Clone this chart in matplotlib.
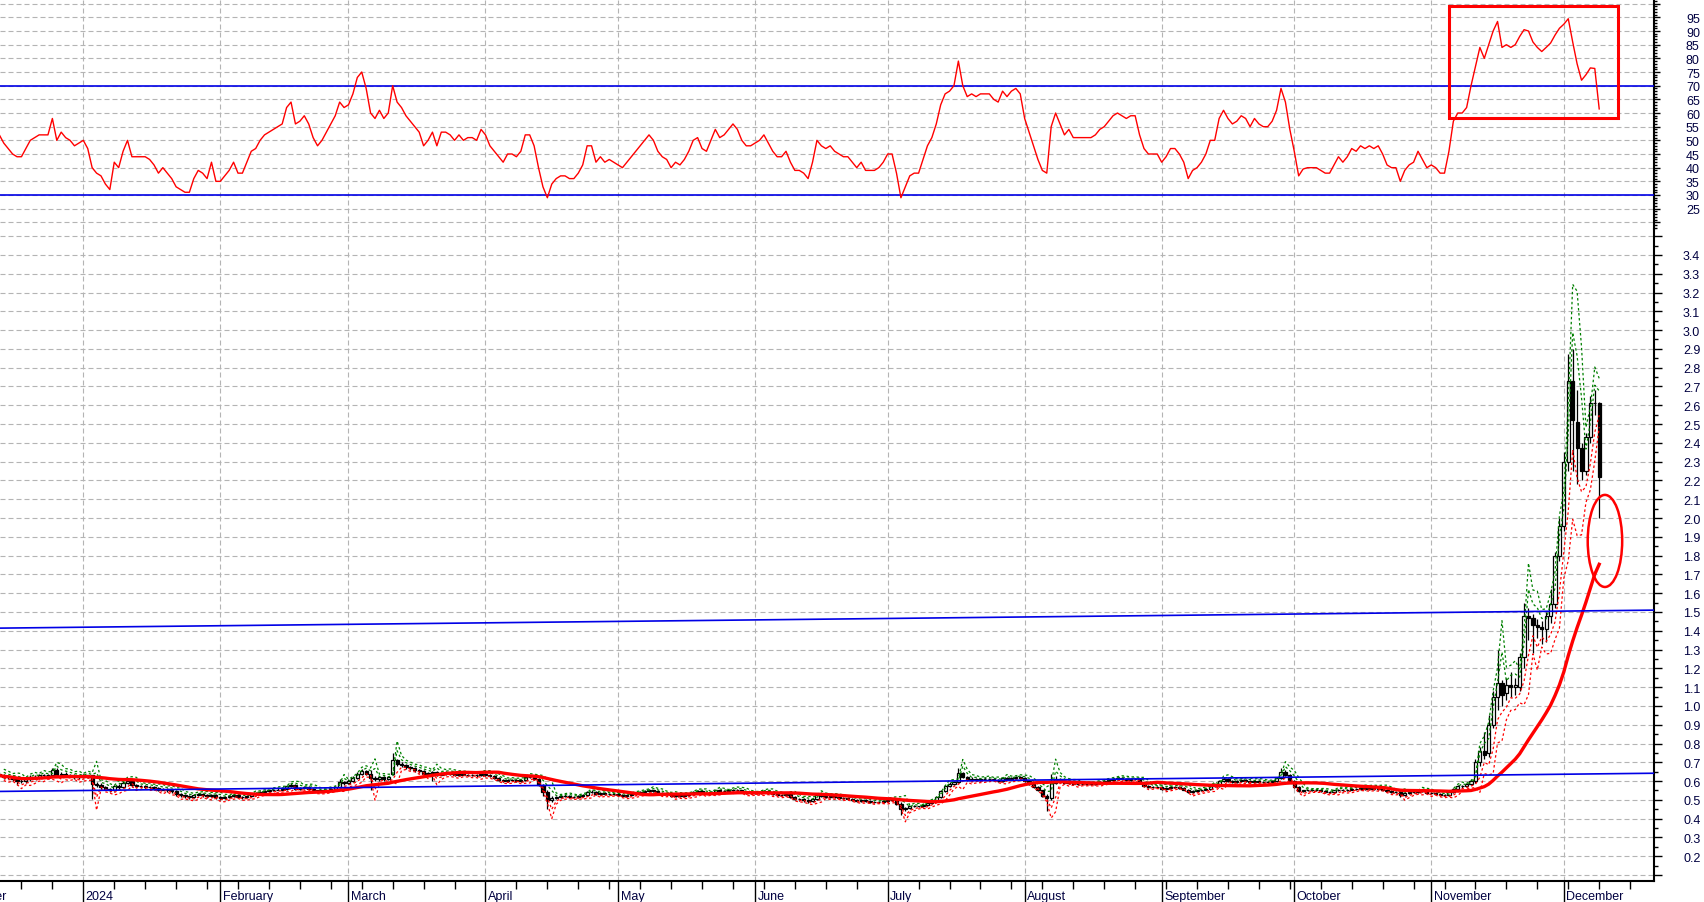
import matplotlib.pyplot as plt
import numpy as np
import pandas as pd
from matplotlib.patches import Rectangle, Ellipse

plt.rcParams['font.family'] = ['Liberation Sans', 'DejaVu Sans']

# daily bars, 13 Dec 2023 .. 9 Dec 2024
dates = pd.date_range("2023-12-13", "2024-12-09", freq="D")

opens = [
    0.64, 0.63, 0.62, 0.62, 0.61, 0.60, 0.60, 0.61, 0.62, 0.62, 0.63, 0.63, 0.63, 0.66, 0.63, 0.64, 0.63, 0.63, 0.62,
    0.62, 0.63, 0.63, 0.585, 0.58, 0.57, 0.56, 0.55, 0.575, 0.57, 0.59, 0.60, 0.58, 0.575, 0.575, 0.57, 0.57, 0.565, 0.555, 0.56, 0.55, 0.545, 0.53, 0.525, 0.52, 0.515, 0.525, 0.53, 0.525, 0.52, 0.525,
    0.515, 0.51, 0.515, 0.52, 0.525, 0.515, 0.515, 0.52, 0.53, 0.535, 0.54, 0.545, 0.55, 0.555, 0.555, 0.56, 0.575, 0.58, 0.56, 0.565, 0.57, 0.56, 0.55, 0.545, 0.55, 0.555, 0.56, 0.57, 0.595,
    0.59, 0.60, 0.615, 0.64, 0.655, 0.64, 0.615, 0.61, 0.62, 0.61, 0.64, 0.71, 0.69, 0.685, 0.675, 0.67, 0.66, 0.655, 0.64, 0.645, 0.65, 0.635, 0.645, 0.645, 0.64, 0.635, 0.64, 0.635, 0.635, 0.635, 0.63,
    0.64, 0.635, 0.625, 0.615, 0.605, 0.60, 0.605, 0.605, 0.60, 0.605, 0.62, 0.62, 0.61, 0.58, 0.54, 0.50, 0.51, 0.515, 0.52, 0.52, 0.515, 0.515, 0.52, 0.525, 0.54, 0.54, 0.53, 0.535, 0.53, 0.53,
    0.53, 0.525, 0.52, 0.525, 0.53, 0.535, 0.54, 0.545, 0.55, 0.545, 0.535, 0.53, 0.53, 0.52, 0.525, 0.52, 0.525, 0.53, 0.54, 0.545, 0.535, 0.535, 0.54, 0.55, 0.545, 0.545, 0.55, 0.555, 0.55, 0.54, 0.535,
    0.535, 0.535, 0.54, 0.545, 0.535, 0.53, 0.525, 0.525, 0.53, 0.515, 0.505, 0.505, 0.50, 0.495, 0.505, 0.525, 0.52, 0.515, 0.52, 0.515, 0.51, 0.51, 0.505, 0.50, 0.495, 0.50, 0.495, 0.49, 0.49, 0.49,
    0.495, 0.50, 0.50, 0.48, 0.45, 0.455, 0.465, 0.465, 0.465, 0.475, 0.485, 0.495, 0.515, 0.545, 0.575, 0.585, 0.595, 0.645, 0.62, 0.605, 0.61, 0.605, 0.61, 0.61, 0.61, 0.605, 0.60, 0.615, 0.61, 0.615, 0.62,
    0.615, 0.60, 0.585, 0.57, 0.55, 0.52, 0.51, 0.59, 0.61, 0.60, 0.59, 0.595, 0.585, 0.585, 0.585, 0.585, 0.585, 0.59, 0.595, 0.60, 0.605, 0.61, 0.615, 0.61, 0.605, 0.61, 0.61, 0.59, 0.575, 0.57, 0.57,
    0.57, 0.56, 0.565, 0.57, 0.57, 0.565, 0.555, 0.54, 0.545, 0.55, 0.555, 0.56, 0.575, 0.575, 0.60, 0.61, 0.60, 0.595, 0.60, 0.605, 0.60, 0.595, 0.60, 0.595, 0.595, 0.595, 0.60, 0.615, 0.65, 0.635,
    0.60, 0.57, 0.545, 0.55, 0.55, 0.55, 0.55, 0.545, 0.54, 0.54, 0.55, 0.555, 0.55, 0.555, 0.56, 0.56, 0.565, 0.56, 0.565, 0.56, 0.565, 0.555, 0.545, 0.54, 0.54, 0.525, 0.535, 0.54, 0.54, 0.55, 0.545,
    0.535, 0.535, 0.53, 0.525, 0.525, 0.54, 0.56, 0.575, 0.575, 0.585, 0.60, 0.70, 0.76, 0.75, 0.90, 1.05, 1.12, 1.07, 1.11, 1.10, 1.10, 1.26, 1.48, 1.468, 1.433, 1.42, 1.41, 1.48, 1.54, 1.80,
    1.96, 2.30, 2.73, 2.51, 2.37, 2.25, 2.43, 2.61, 2.61,
]
highs = [
    0.65, 0.64, 0.63, 0.63, 0.62, 0.61, 0.62, 0.63, 0.63, 0.64, 0.64, 0.64, 0.67, 0.67, 0.65, 0.65, 0.64, 0.64, 0.63,
    0.64, 0.635, 0.635, 0.595, 0.59, 0.575, 0.565, 0.58, 0.585, 0.60, 0.61, 0.605, 0.585, 0.58, 0.58, 0.575, 0.575, 0.57, 0.565, 0.565, 0.555, 0.55, 0.535, 0.53, 0.525, 0.53, 0.535, 0.535, 0.53, 0.53, 0.53,
    0.52, 0.52, 0.525, 0.53, 0.53, 0.52, 0.525, 0.535, 0.54, 0.545, 0.55, 0.555, 0.56, 0.565, 0.565, 0.58, 0.59, 0.585, 0.57, 0.575, 0.575, 0.565, 0.555, 0.555, 0.56, 0.565, 0.575, 0.61, 0.60,
    0.61, 0.625, 0.65, 0.665, 0.66, 0.66, 0.625, 0.625, 0.625, 0.625, 0.75, 0.72, 0.70, 0.69, 0.68, 0.675, 0.665, 0.66, 0.65, 0.655, 0.655, 0.65, 0.655, 0.65, 0.645, 0.645, 0.645, 0.64, 0.64, 0.64, 0.645,
    0.645, 0.64, 0.63, 0.62, 0.61, 0.61, 0.61, 0.61, 0.61, 0.625, 0.63, 0.625, 0.615, 0.585, 0.55, 0.52, 0.52, 0.525, 0.53, 0.525, 0.52, 0.525, 0.53, 0.545, 0.55, 0.545, 0.54, 0.54, 0.535, 0.535,
    0.535, 0.53, 0.53, 0.535, 0.54, 0.545, 0.55, 0.56, 0.555, 0.55, 0.54, 0.535, 0.535, 0.53, 0.53, 0.53, 0.535, 0.545, 0.55, 0.55, 0.54, 0.545, 0.555, 0.555, 0.55, 0.555, 0.56, 0.56, 0.555, 0.545, 0.54,
    0.54, 0.545, 0.55, 0.55, 0.54, 0.535, 0.53, 0.535, 0.535, 0.52, 0.51, 0.51, 0.505, 0.51, 0.53, 0.53, 0.525, 0.525, 0.525, 0.52, 0.515, 0.515, 0.51, 0.505, 0.505, 0.505, 0.50, 0.495, 0.495, 0.50,
    0.505, 0.51, 0.505, 0.49, 0.46, 0.47, 0.475, 0.47, 0.48, 0.49, 0.50, 0.52, 0.55, 0.58, 0.595, 0.60, 0.67, 0.65, 0.625, 0.62, 0.615, 0.615, 0.62, 0.615, 0.615, 0.61, 0.62, 0.62, 0.62, 0.625, 0.625,
    0.62, 0.605, 0.59, 0.575, 0.555, 0.53, 0.64, 0.625, 0.615, 0.605, 0.60, 0.60, 0.59, 0.59, 0.59, 0.59, 0.595, 0.60, 0.605, 0.61, 0.615, 0.62, 0.62, 0.615, 0.615, 0.615, 0.61, 0.595, 0.58, 0.575, 0.575,
    0.575, 0.57, 0.575, 0.575, 0.575, 0.57, 0.56, 0.55, 0.555, 0.56, 0.565, 0.58, 0.58, 0.605, 0.62, 0.615, 0.605, 0.605, 0.61, 0.61, 0.605, 0.605, 0.605, 0.60, 0.60, 0.605, 0.62, 0.67, 0.66, 0.64,
    0.605, 0.575, 0.555, 0.555, 0.555, 0.555, 0.555, 0.55, 0.545, 0.555, 0.56, 0.56, 0.56, 0.565, 0.565, 0.57, 0.57, 0.57, 0.57, 0.57, 0.57, 0.56, 0.55, 0.545, 0.545, 0.54, 0.545, 0.545, 0.555, 0.555, 0.55,
    0.54, 0.54, 0.535, 0.53, 0.545, 0.565, 0.58, 0.58, 0.59, 0.61, 0.72, 0.78, 0.86, 0.95, 1.08, 1.30, 1.14, 1.15, 1.18, 1.15, 1.28, 1.55, 1.52, 1.49, 1.46, 1.45, 1.50, 1.62, 1.82, 2.00,
    2.35, 2.875, 2.90, 2.68, 2.40, 2.45, 2.65, 2.68, 2.62,
]
lows = [
    0.62, 0.61, 0.61, 0.60, 0.58, 0.59, 0.59, 0.60, 0.61, 0.61, 0.62, 0.62, 0.62, 0.62, 0.62, 0.62, 0.62, 0.61, 0.61,
    0.615, 0.615, 0.505, 0.57, 0.56, 0.55, 0.54, 0.545, 0.56, 0.565, 0.585, 0.57, 0.565, 0.565, 0.56, 0.56, 0.555, 0.545, 0.55, 0.54, 0.535, 0.52, 0.515, 0.51, 0.505, 0.51, 0.52, 0.515, 0.51, 0.515, 0.505,
    0.50, 0.505, 0.51, 0.515, 0.51, 0.505, 0.51, 0.515, 0.525, 0.53, 0.535, 0.54, 0.545, 0.55, 0.55, 0.555, 0.57, 0.555, 0.555, 0.56, 0.555, 0.545, 0.54, 0.54, 0.545, 0.55, 0.555, 0.565, 0.58,
    0.585, 0.595, 0.61, 0.635, 0.635, 0.55, 0.60, 0.60, 0.60, 0.605, 0.635, 0.68, 0.675, 0.665, 0.66, 0.65, 0.645, 0.63, 0.635, 0.60, 0.625, 0.63, 0.635, 0.63, 0.625, 0.63, 0.63, 0.625, 0.625, 0.62, 0.625,
    0.625, 0.62, 0.61, 0.60, 0.595, 0.595, 0.60, 0.595, 0.595, 0.60, 0.615, 0.605, 0.575, 0.52, 0.45, 0.49, 0.505, 0.51, 0.515, 0.51, 0.51, 0.51, 0.515, 0.52, 0.535, 0.525, 0.525, 0.525, 0.525, 0.525,
    0.52, 0.515, 0.515, 0.52, 0.525, 0.53, 0.535, 0.54, 0.54, 0.53, 0.525, 0.525, 0.515, 0.515, 0.515, 0.515, 0.52, 0.525, 0.535, 0.53, 0.53, 0.53, 0.535, 0.54, 0.54, 0.54, 0.545, 0.545, 0.535, 0.53, 0.53,
    0.53, 0.53, 0.535, 0.53, 0.525, 0.52, 0.52, 0.52, 0.51, 0.50, 0.495, 0.49, 0.485, 0.49, 0.50, 0.515, 0.51, 0.51, 0.51, 0.505, 0.505, 0.50, 0.495, 0.49, 0.49, 0.49, 0.485, 0.485, 0.485, 0.485,
    0.49, 0.495, 0.475, 0.42, 0.44, 0.45, 0.46, 0.46, 0.46, 0.47, 0.48, 0.49, 0.51, 0.54, 0.57, 0.58, 0.59, 0.615, 0.60, 0.60, 0.60, 0.60, 0.605, 0.605, 0.60, 0.595, 0.595, 0.605, 0.605, 0.61, 0.61,
    0.595, 0.58, 0.565, 0.545, 0.515, 0.44, 0.50, 0.585, 0.595, 0.585, 0.585, 0.58, 0.58, 0.58, 0.58, 0.58, 0.58, 0.585, 0.59, 0.595, 0.60, 0.605, 0.605, 0.60, 0.60, 0.605, 0.585, 0.57, 0.565, 0.565, 0.565,
    0.555, 0.555, 0.56, 0.565, 0.56, 0.55, 0.535, 0.535, 0.54, 0.545, 0.55, 0.555, 0.57, 0.57, 0.595, 0.595, 0.59, 0.59, 0.595, 0.595, 0.59, 0.59, 0.59, 0.59, 0.59, 0.59, 0.595, 0.61, 0.625, 0.595,
    0.565, 0.54, 0.54, 0.545, 0.545, 0.545, 0.54, 0.535, 0.535, 0.535, 0.545, 0.545, 0.545, 0.55, 0.555, 0.555, 0.555, 0.555, 0.555, 0.555, 0.55, 0.54, 0.535, 0.535, 0.515, 0.52, 0.53, 0.535, 0.535, 0.54, 0.53,
    0.53, 0.525, 0.52, 0.52, 0.52, 0.535, 0.555, 0.565, 0.57, 0.58, 0.59, 0.68, 0.72, 0.73, 0.88, 0.98, 1.0, 1.03, 1.05, 1.06, 1.08, 1.20, 1.35, 1.28, 1.36, 1.33, 1.34, 1.44, 1.52, 1.77,
    1.93, 2.25, 2.25, 2.18, 2.20, 2.23, 2.40, 2.55, 2.0,
]
closes = [
    0.63, 0.62, 0.62, 0.61, 0.60, 0.60, 0.61, 0.62, 0.62, 0.63, 0.63, 0.63, 0.66, 0.63, 0.64, 0.63, 0.63, 0.62, 0.62,
    0.63, 0.625, 0.585, 0.58, 0.57, 0.56, 0.55, 0.575, 0.57, 0.59, 0.60, 0.58, 0.575, 0.575, 0.57, 0.57, 0.565, 0.555, 0.56, 0.55, 0.545, 0.53, 0.525, 0.52, 0.515, 0.525, 0.53, 0.525, 0.52, 0.525, 0.515,
    0.51, 0.515, 0.52, 0.525, 0.515, 0.515, 0.52, 0.53, 0.535, 0.54, 0.545, 0.55, 0.555, 0.555, 0.56, 0.575, 0.58, 0.56, 0.565, 0.57, 0.56, 0.55, 0.545, 0.55, 0.555, 0.56, 0.57, 0.595, 0.59,
    0.60, 0.615, 0.64, 0.655, 0.64, 0.615, 0.61, 0.62, 0.61, 0.62, 0.71, 0.69, 0.685, 0.675, 0.67, 0.66, 0.655, 0.64, 0.645, 0.65, 0.635, 0.645, 0.645, 0.64, 0.635, 0.64, 0.635, 0.635, 0.635, 0.63, 0.64,
    0.635, 0.625, 0.615, 0.605, 0.60, 0.605, 0.605, 0.60, 0.605, 0.62, 0.62, 0.61, 0.58, 0.54, 0.50, 0.51, 0.515, 0.52, 0.52, 0.515, 0.515, 0.52, 0.525, 0.54, 0.54, 0.53, 0.535, 0.53, 0.53, 0.53,
    0.525, 0.52, 0.525, 0.53, 0.535, 0.54, 0.545, 0.55, 0.545, 0.535, 0.53, 0.53, 0.52, 0.525, 0.52, 0.525, 0.53, 0.54, 0.545, 0.535, 0.535, 0.54, 0.55, 0.545, 0.545, 0.55, 0.555, 0.55, 0.54, 0.535, 0.535,
    0.535, 0.54, 0.545, 0.535, 0.53, 0.525, 0.525, 0.53, 0.515, 0.505, 0.505, 0.50, 0.495, 0.505, 0.525, 0.52, 0.515, 0.52, 0.515, 0.51, 0.51, 0.505, 0.50, 0.495, 0.50, 0.495, 0.49, 0.49, 0.49, 0.495,
    0.50, 0.50, 0.48, 0.45, 0.455, 0.465, 0.465, 0.465, 0.475, 0.485, 0.495, 0.515, 0.545, 0.575, 0.585, 0.595, 0.645, 0.62, 0.605, 0.61, 0.605, 0.61, 0.61, 0.61, 0.605, 0.60, 0.615, 0.61, 0.615, 0.62, 0.615,
    0.60, 0.585, 0.57, 0.55, 0.52, 0.51, 0.59, 0.61, 0.60, 0.59, 0.595, 0.585, 0.585, 0.585, 0.585, 0.585, 0.59, 0.595, 0.60, 0.605, 0.61, 0.615, 0.61, 0.605, 0.61, 0.61, 0.59, 0.575, 0.57, 0.57, 0.57,
    0.56, 0.565, 0.57, 0.57, 0.565, 0.555, 0.54, 0.545, 0.55, 0.555, 0.56, 0.575, 0.575, 0.60, 0.61, 0.60, 0.595, 0.60, 0.605, 0.60, 0.595, 0.60, 0.595, 0.595, 0.595, 0.60, 0.615, 0.65, 0.635, 0.60,
    0.57, 0.545, 0.55, 0.55, 0.55, 0.55, 0.545, 0.54, 0.54, 0.55, 0.555, 0.55, 0.555, 0.56, 0.56, 0.565, 0.56, 0.565, 0.56, 0.565, 0.555, 0.545, 0.54, 0.54, 0.525, 0.535, 0.54, 0.54, 0.55, 0.545, 0.535,
    0.535, 0.53, 0.525, 0.525, 0.54, 0.56, 0.575, 0.575, 0.585, 0.60, 0.70, 0.76, 0.74, 0.90, 1.05, 1.12, 1.06, 1.11, 1.10, 1.11, 1.26, 1.48, 1.47, 1.433, 1.419, 1.41, 1.48, 1.54, 1.80, 1.96,
    2.30, 2.73, 2.52, 2.37, 2.25, 2.43, 2.61, 2.61, 2.22,
]
rsi = [
    52, 49, 47, 45, 44, 44, 47, 50, 51, 52, 52, 52, 58, 50, 53, 51, 50, 48, 49,
    50, 47, 40, 38, 37, 34, 32, 42, 40, 46, 50, 44, 44, 44, 44, 43, 41, 38, 40, 38, 36, 33, 32, 31, 31, 36, 39, 38, 36, 42, 35,
    35, 37, 39, 42, 38, 38, 42, 46, 47, 50, 52, 53, 54, 55, 56, 62, 64, 56, 57, 59, 56, 51, 48, 50, 53, 56, 59, 64, 62,
    63, 67, 73, 75, 69, 60, 58, 61, 58, 60, 70, 64, 62, 59, 57, 55, 53, 48, 50, 53, 48, 53, 53, 52, 50, 52, 50, 51, 51, 50, 54,
    52, 48, 46, 44, 42, 45, 45, 44, 46, 52, 52, 48, 40, 33, 29, 34, 36, 37, 37, 36, 36, 38, 41, 48, 48, 42, 44, 42, 43, 42,
    41, 40, 42, 44, 46, 48, 50, 52, 50, 46, 44, 43, 40, 42, 41, 43, 46, 50, 51, 47, 46, 50, 54, 51, 52, 54, 56, 54, 50, 48, 48,
    49, 50, 52, 49, 46, 44, 44, 46, 42, 39, 39, 38, 36, 42, 50, 48, 47, 48, 46, 45, 44, 44, 42, 40, 42, 39, 39, 39, 40, 42,
    45, 45, 38, 29, 33, 37, 38, 38, 43, 48, 51, 56, 63, 67, 68, 70, 79, 70, 66, 67, 66, 67, 67, 67, 65, 64, 68, 66, 68, 69, 67,
    58, 53, 48, 43, 39, 38, 55, 60, 56, 52, 54, 51, 51, 51, 51, 51, 52, 54, 55, 57, 59, 60, 59, 58, 59, 59, 52, 47, 45, 45, 45,
    42, 44, 47, 47, 45, 42, 36, 39, 40, 42, 45, 50, 50, 58, 61, 58, 56, 57, 59, 58, 55, 58, 56, 55, 55, 57, 61, 69, 64, 54,
    46, 37, 39.5, 40, 40, 40, 39, 38, 38, 41, 44, 42, 44, 47, 46, 48, 47, 48, 47, 48, 45, 41, 40, 40, 35, 39, 41, 42, 46, 43, 40,
    41, 40, 38, 38, 46, 57, 60, 60, 62, 70, 77, 84, 80, 85, 90, 93.5, 84, 85, 84, 85, 88, 90.5, 90, 86, 84, 82.5, 84, 85.6, 88.5, 91,
    92.5, 94.5, 86, 78, 72, 74, 76.5, 76.3, 61.5,
]

# hand-drawn trend lines: values at 13 Dec 2023 and 22 Dec 2024
trend_dates = ["2023-12-13", "2024-12-22"]
upper_trend = [1.414, 1.510]
lower_trend = [0.545, 0.642]

month_names = ["December", "2024", "February", "March", "April", "May", "June",
               "July", "August", "September", "October", "November", "December"]

n = min(len(opens), len(highs), len(lows), len(closes), len(rsi), len(dates))
o = np.array(opens[:n])
h = np.array(highs[:n])
l = np.array(lows[:n])
c = np.array(closes[:n])
r = np.array(rsi[:n])
x = np.arange(n)

def day(d):
    return (pd.Timestamp(d) - dates[0]).days

# 25 day moving average and floor-trader pivots (plotted on the next bar)
ma = pd.Series(c).rolling(25, min_periods=1).mean()
piv = (h + l + c) / 3
r1 = 2 * piv - l
s1 = 2 * piv - h
r2 = piv + (h - l)
s2 = piv - (h - l)

label_col = '#000040'
grid_kw = dict(color='#b4b4b4', linestyle=(0, (4.5, 2.7)), linewidth=0.8)
blue = '#0000e6'

fig = plt.figure(figsize=(17.04, 9.03), dpi=100)
ax_rsi = fig.add_axes([0, 0.7453, 0.97066, 0.2547])
ax = fig.add_axes([0, 0.02326, 0.97066, 0.72204])

month_x = [day(m) for m in pd.date_range("2023-12-01", "2024-12-01", freq="MS")]
monday_x = [day(m) for m in pd.date_range("2023-12-04", "2024-12-30", freq="W-MON")]
xlim = (0.15, 374.4)

# ---- RSI panel ----
ax_rsi.plot(x, r, color='#ff0000', linewidth=1.0, zorder=4)
ax_rsi.axhline(70, color=blue, linewidth=1.2, zorder=3)
ax_rsi.axhline(30, color=blue, linewidth=1.2, zorder=3)
ax_rsi.add_patch(Rectangle((328, 58.2), 38.3, 41.1, fill=False, edgecolor='#ff0000',
                           linewidth=2.2, zorder=6))
rsi_ticks = np.arange(20, 101, 5)
ax_rsi.set_yticks(rsi_ticks)
ax_rsi.set_yticklabels(['' if v in (20, 100) else str(v) for v in rsi_ticks])
ax_rsi.set_yticks([v for v in range(18, 102) if v % 5], minor=True)
ax_rsi.set_xticks(month_x)
ax_rsi.tick_params(axis='x', which='both', bottom=False, labelbottom=False)
ax_rsi.set_xlim(*xlim)
ax_rsi.set_ylim(17.56, 101.72)

# ---- price panel ----
ax.vlines(x, l, h, color='black', linewidth=0.9, zorder=2)
up = c >= o
lo = np.minimum(o, c)
ht = np.abs(c - o)
ax.bar(x[up], ht[up], bottom=lo[up], width=0.72, facecolor='white',
       edgecolor='black', linewidth=0.9, zorder=3)
ax.bar(x[~up], ht[~up], bottom=lo[~up], width=0.72, facecolor='black',
       edgecolor='black', linewidth=0.9, zorder=3)

for lev, col in [(r1, '#008000'), (r2, '#008000'), (s1, '#ff0000'), (s2, '#ff0000')]:
    ax.plot(x[1:], lev[:-1], color=col, linestyle=(0, (2, 2)), linewidth=0.9, zorder=4)

ax.plot(x, ma, color='#ff0000', linewidth=2.4, zorder=5)

tx = [day(d) for d in trend_dates]
ax.plot(tx, upper_trend, color=blue, linewidth=1.2, zorder=5)
ax.plot(tx, lower_trend, color=blue, linewidth=1.2, zorder=5)

ax.add_patch(Ellipse((363.3, 1.878), 7.8, 0.49, fill=False, edgecolor='#ff0000',
                     linewidth=1.8, zorder=6))

price_ticks = np.round(np.arange(0.1, 3.51, 0.1), 1)
ax.set_yticks(price_ticks)
ax.set_yticklabels(['' if v < 0.15 or v > 3.45 else f'{v:.1f}' for v in price_ticks])
ax.set_yticks(np.arange(0.15, 3.5, 0.1), minor=True)
ax.set_xticks(month_x)
ax.set_xticks(monday_x, minor=True)
ax.set_xticklabels([])
ax.tick_params(axis='x', which='major', direction='out', length=16, width=1, color='black')
ax.tick_params(axis='x', which='minor', direction='out', length=6, width=1, color='black')
ax.set_xlim(*xlim)
ax.set_ylim(0.0684, 3.538)

for name, mx in zip(month_names, month_x):
    ax.annotate(name, xy=(mx, 0), xycoords=('data', 'axes fraction'),
                xytext=(1.8, -6.5), textcoords='offset points', ha='left', va='top',
                fontsize=9, color=label_col, annotation_clip=False)

# ---- shared styling ----
for a, maj_len, pad in [(ax_rsi, 4.3, 18.7), (ax, 5.8, 15.1)]:
    a.yaxis.tick_right()
    a.tick_params(axis='y', which='major', direction='out', length=maj_len, width=1,
                  pad=pad, labelsize=9, labelcolor=label_col)
    a.tick_params(axis='y', which='minor', direction='out', length=maj_len / 2, width=1)
    a.grid(True, which='major', **grid_kw)
    a.set_axisbelow(True)
    for s in ('left', 'top'):
        a.spines[s].set_visible(False)
    a.spines['right'].set_linewidth(1.5)
    a.set_facecolor('none')

ax_rsi.spines['bottom'].set_visible(False)
ax.spines['bottom'].set_linewidth(1.5)

fig.savefig('out.png', dpi=100)
